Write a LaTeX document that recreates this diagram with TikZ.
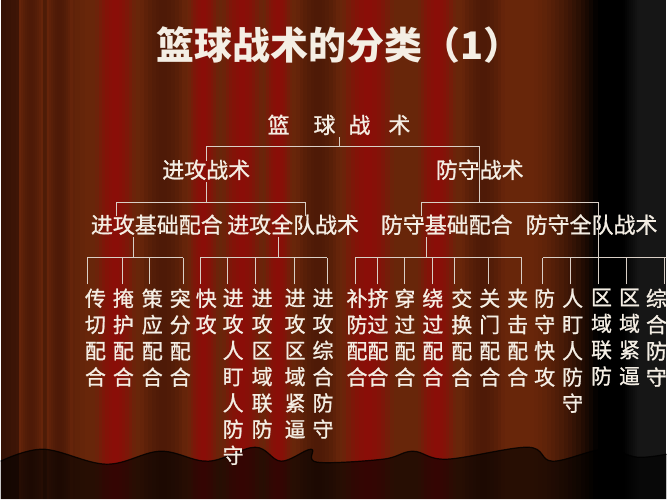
\documentclass[tikz,border=0pt]{standalone}
\usepackage{fontspec}
\newfontfamily\cjk[FakeBold=1]{Noto Sans CJK SC}
\newfontfamily\cjkt{Noto Sans CJK SC}
\definecolor{cEdge}{HTML}{361205}
\definecolor{cBrn}{HTML}{68260A}
\definecolor{cRed}{HTML}{8A0E08}
\definecolor{cDark}{HTML}{4E1A07}
\definecolor{cGrey}{HTML}{161616}
\definecolor{textC}{HTML}{F4EEE4}
\definecolor{lineC}{HTML}{D9CFC6}
\tikzset{
  link/.style={draw=lineC, line width=0.8pt},
  ttl/.style={text=textC, font=\cjkt\bfseries\fontsize{38}{40}\selectfont, inner sep=0pt},
  lvl/.style={text=textC, font=\cjk\fontsize{22}{26}\selectfont, inner sep=0pt, text height=17pt, text depth=4pt},
  leaf/.style={text=textC, font=\cjk\fontsize{21}{26.3}\selectfont, inner sep=0pt, align=center, anchor=north},
}
% one fold of the curtain: left, right, colour at its middle
\newcommand\curtainfold[3]{%
  \foreach \i in {0,...,11}{
    \pgfmathsetmacro\p{100*sin(180*(\i+0.5)/12)}
    \fill[#3!\p!cBrn] ({#1+(#2-#1)*\i/12},0) rectangle ({#1+(#2-#1)*(\i+1)/12+0.4},500);
  }}

\begin{document}
\begin{tikzpicture}[x=1pt, y=-1pt]
        % curtain
        \fill[cBrn] (0,0) rectangle (667,500);
        \foreach \i in {0,...,17}{
            \pgfmathsetmacro\p{\i*100/17}
            \fill[cBrn!\p!cEdge] (\i*5,0) rectangle (\i*5+5.4,500);
        }
        \foreach \a/\b in {95/135, 188/218, 222/262, 264/292, 342/394, 418/456}
            \curtainfold{\a}{\b}{cRed}
        \foreach \a/\b in {18/42, 46/72, 140/186, 296/340, 462/505}
            \curtainfold{\a}{\b}{cDark}
        % fade to black on the right
        \foreach \i in {0,...,15}{
            \pgfmathsetmacro\p{100*((\i+0.5)/16)^1.6}
            \fill[black!\p!cBrn] (530+\i*4.25,0) rectangle (534.6+\i*4.25,500);
        }
        \fill[black] (598,0) rectangle (624,500);
        \foreach \i in {0,...,7}{
            \pgfmathsetmacro\p{(\i+0.5)*100/8}
            \fill[cGrey!\p!black] (624+\i*2,0) rectangle (626.4+\i*2,500);
        }
        \fill[cGrey] (640,0) rectangle (667,500);
        % hem
        \fill[black, opacity=.62] plot[smooth, tension=.6] coordinates {(0,462) (43,450) (106,465) (160,452) (208,462) (255,448) (281,462) (311,450) (317,463) (383,460) (413,452) (447,460) (528,448) (553,462) (604,450) (638,458) (667,455)} -- (667,500) -- (0,500) -- cycle;
        \draw[black, opacity=.8, line width=1.2pt] plot[smooth, tension=.6] coordinates {(0,462) (43,450) (106,465) (160,452) (208,462) (255,448) (281,462) (311,450) (317,463) (383,460) (413,452) (447,460) (528,448) (553,462) (604,450) (638,458) (667,455)};

        \node[ttl] (title) at (339,45) {篮球战术的分类（1）};
        \node[lvl] (root) at (339,127) {篮\hspace{24pt}球\hspace{13pt}战\hspace{18pt}术};
        \node[lvl] (att) at (206,172) {进攻战术};
        \node[lvl] (def) at (480,172) {防守战术};
        \node[lvl] (attbase) at (156.5,227) {进攻基础配合};
        \node[lvl] (attteam) at (293,227) {进攻全队战术};
        \node[lvl] (defbase) at (447,227) {防守基础配合};
        \node[lvl] (defteam) at (592,227) {防守全队战术};

        \draw[link] (root.south) -- ++(0,9.5);
        \draw[link] (att.north) -- ++(0,-14.5) -| (def.south) -- ++(0,20.5);
        \draw[link] (att.south) -- ++(0,20.5);
        \draw[link] ([xshift=-40pt]attbase.north) -- ++(0,-13.5) -| ([xshift=12pt]attteam.north);
        \draw[link] ([xshift=-25pt]defbase.north) -- ++(0,-13.5) -| ([xshift=7pt]defteam.south) -- ++(0,20.5);
        \draw[link] ([xshift=-23.5pt]attbase.south) -- ++(0,20.5);
        \draw[link] ([xshift=-15pt]attteam.south) -- ++(0,20.5);
        \draw[link] ([xshift=-20pt]defbase.south) -- ++(0,20.5);

        % leaves: name/x/stem offset/text
        \foreach \n/\x/\dx/\txt in {a1/95/-8/传\\切\\配\\合, a2/123/-1/掩\\护\\配\\合, a3/152/-3/策\\应\\配\\合, a4/180/3/突\\分\\配\\合,
            b1/206/-6/快\\攻, b2/233/-6/进\\攻\\人\\盯\\人\\防\\守, b3/262/-7/进\\攻\\区\\域\\联\\防, b4/295/-1/进\\攻\\区\\域\\紧\\逼, b5/323/4/进\\攻\\综\\合\\防\\守,
            c1/357/-2/补\\防\\配\\合, c2/378/-1/挤\\过\\配\\合, c3/405/0/穿\\过\\配\\合, c4/433/0/绕\\过\\配\\合, c5/462/-7/交\\换\\配\\合, c6/490/-1/关\\门\\配\\合, c7/518/4/夹\\击\\配\\合,
            d1/545/-2/防\\守\\快\\攻, d2/573/-2/人\\盯\\人\\防\\守, d3/602/-3/区\\域\\联\\防, d4/630/-3/区\\域\\紧\\逼, d5/657/8/综\\合\\防\\守} {
            \node[leaf] (\n) at (\x,289) {\txt};
            \draw[link] ([xshift=\dx pt]\n.north) ++(0,-4) -- ++(0,-27);
        }
        \draw[link] ([shift={(-8,-31)}]a1.north) -- ([shift={(3,-31)}]a4.north);
        \draw[link] ([shift={(-6,-31)}]b1.north) -- ([shift={(4,-31)}]b5.north);
        \draw[link] ([shift={(-2,-31)}]c1.north) -- ([shift={(4,-31)}]c7.north);
        \draw[link] ([shift={(-2,-31)}]d1.north) -- ([shift={(10,-31)}]d5.north);
    \end{tikzpicture}
\end{document}
